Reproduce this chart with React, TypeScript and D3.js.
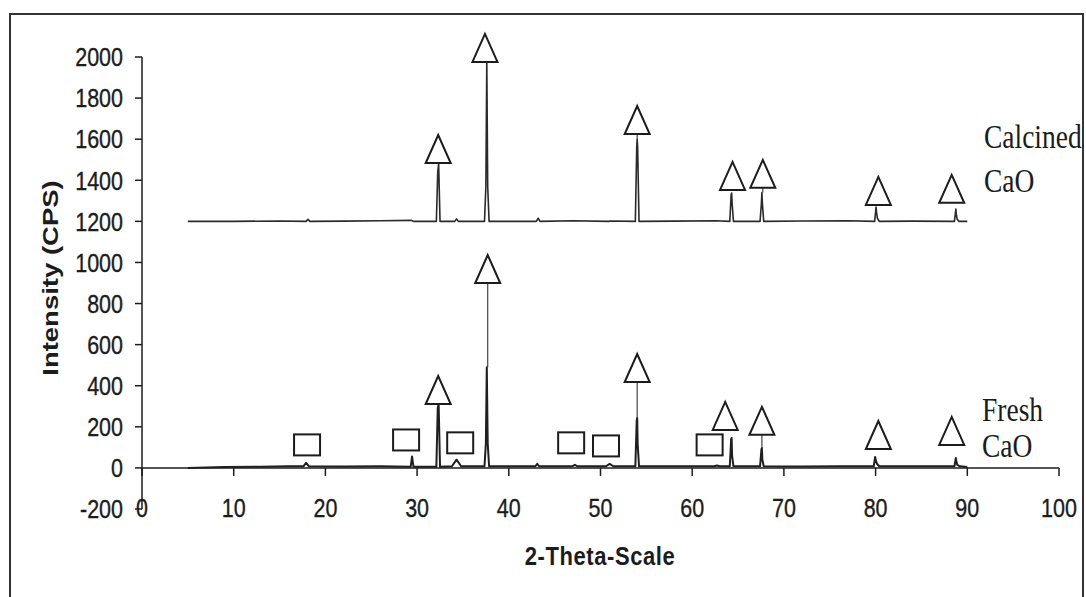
import React from "react";
import * as d3 from "d3";

// ---- Data (2-theta in degrees, intensity in CPS) ----
const calcinedTheta = [5, 10, 15, 17.9, 18.1, 18.3, 22, 26, 29.4, 29.6, 32.1, 32.25, 32.35, 32.5, 34.1, 34.3, 34.5, 37.35, 37.5, 37.6, 37.7, 37.85, 43.0, 43.2, 43.4, 47, 50.9, 51.1, 53.8, 53.95, 54.0, 54.05, 54.2, 58, 62.6, 64.1, 64.25, 64.3, 64.35, 64.5, 67.4, 67.55, 67.6, 67.65, 67.8, 72, 77, 79.9, 80.05, 80.1, 80.2, 80.4, 84, 88.6, 88.75, 88.8, 88.9, 89.1, 90];
const calcinedIntensity = [1200, 1200, 1202, 1200, 1210, 1200, 1201, 1203, 1205, 1200, 1200, 1440, 1480, 1200, 1200, 1212, 1200, 1200, 1370, 1975, 1370, 1200, 1200, 1215, 1200, 1203, 1200, 1202, 1200, 1560, 1600, 1560, 1200, 1201, 1203, 1200, 1330, 1338, 1290, 1200, 1200, 1290, 1340, 1290, 1200, 1202, 1203, 1200, 1270, 1245, 1215, 1200, 1201, 1200, 1260, 1235, 1210, 1200, 1200];

const freshTheta = [5, 9, 13, 16, 17.6, 17.9, 18.2, 22, 26, 29.3, 29.45, 29.6, 32.1, 32.25, 32.35, 32.5, 33.8, 34.3, 34.8, 37.35, 37.5, 37.6, 37.7, 37.85, 40, 42.9, 43.1, 43.3, 46.9, 47.2, 47.5, 50.6, 51.0, 51.4, 53.8, 53.95, 54.0, 54.05, 54.2, 58, 62.4, 62.7, 63, 64.1, 64.25, 64.3, 64.35, 64.5, 67.4, 67.55, 67.6, 67.65, 67.8, 72, 76, 79.8, 79.95, 80.0, 80.15, 80.4, 84, 88.6, 88.75, 88.8, 88.9, 89.2, 90];
const freshIntensity = [0, 5, 6, 8, 8, 25, 8, 7, 8, 6, 55, 6, 6, 290, 310, 6, 8, 40, 8, 8, 120, 490, 120, 8, 8, 8, 20, 8, 8, 15, 8, 8, 20, 8, 8, 230, 243, 120, 8, 8, 8, 12, 8, 8, 140, 146, 60, 8, 8, 90, 97, 40, 8, 7, 8, 8, 53, 40, 20, 8, 8, 8, 48, 35, 15, 8, 5];

// triangle markers: 2-theta, intensity of the triangle base, peak top (leader line start)
const calcinedTriTheta = [32.3, 37.4, 54.0, 64.4, 67.7, 80.3, 88.3];
const calcinedTriBase = [1484, 1976, 1625, 1353, 1363, 1280, 1290];
const calcinedTriPeak = [1480, 1975, 1600, 1338, 1340, 1270, 1290];
const freshTriTheta = [32.3, 37.7, 54.0, 63.6, 67.6, 80.3, 88.3];
const freshTriBase = [311, 900, 418, 185, 161, 92, 112];
const freshTriPeak = [310, 490, 243, 185, 97, 92, 112];

// square markers: 2-theta, intensity of square centre
const squareTheta = [18.0, 28.8, 34.7, 46.8, 50.6, 61.9];
const squareCenter = [112, 136, 122, 122, 107, 112];

const yTicks = [-200, 0, 200, 400, 600, 800, 1000, 1200, 1400, 1600, 1800, 2000];
const xTicks = [0, 10, 20, 30, 40, 50, 60, 70, 80, 90, 100];

const SANS = "'Liberation Sans', Arial, Helvetica, sans-serif";
const SERIF = "'Liberation Serif', 'Times New Roman', Times, serif";
const INK = "#1c1c1c";
const VS = 1.2; // vertical stretch of the scanned figure

export default function App() {
  const W = 1086, H = 597;
  const x = d3.scaleLinear().domain([0, 100]).range([142, 1059]);
  const y = d3.scaleLinear().domain([-200, 2000]).range([509, 57]);

  const line = d3
    .line<[number, number]>()
    .x((d) => x(d[0]))
    .y((d) => y(d[1]));

  const calcined: [number, number][] = calcinedTheta.map((t, i) => [t, calcinedIntensity[i]]);
  const fresh: [number, number][] = freshTheta.map((t, i) => [t, freshIntensity[i]]);

  const triW = 25, triH = 28;
  const tri = (cx: number, by: number) =>
    `M${cx - triW / 2},${by} L${cx + triW / 2},${by} L${cx},${by - triH} Z`;

  const triangles = [
    ...calcinedTriTheta.map((t, i) => ({ t, base: calcinedTriBase[i], peak: calcinedTriPeak[i] })),
    ...freshTriTheta.map((t, i) => ({ t, base: freshTriBase[i], peak: freshTriPeak[i] })),
  ];

  return (
    <svg
      width={W}
      height={H}
      style={{ position: "absolute", left: 0, top: 0, background: "#fff" }}
    >
      <rect x={0} y={0} width={W} height={H} fill="#fff" />
      {/* outer frame */}
      <rect x={10} y={14} width={1073} height={620} fill="none" stroke="#333" strokeWidth={2} />

      {/* y axis */}
      <line x1={x(0)} x2={x(0)} y1={y(2000)} y2={y(-200)} stroke={INK} strokeWidth={1.5} />
      {yTicks.map((v) => (
        <g key={"y" + v}>
          <line x1={x(0) - 7} x2={x(0)} y1={y(v)} y2={y(v)} stroke={INK} strokeWidth={1.5} />
          <text
            transform={`translate(123,${y(v)}) scale(1,${VS})`}
            dy="0.36em"
            textAnchor="end"
            fontFamily={SANS}
            fontSize={21.5}
            stroke={INK}
            strokeWidth={0.3}
            fill={INK}
          >
            {v}
          </text>
        </g>
      ))}

      {/* x axis at zero */}
      <line x1={x(0)} x2={x(100)} y1={y(0)} y2={y(0)} stroke={INK} strokeWidth={1.5} />
      {xTicks.map((v) => (
        <g key={"x" + v}>
          <line x1={x(v)} x2={x(v)} y1={y(0)} y2={y(0) + 8} stroke={INK} strokeWidth={1.5} />
          <text
            transform={`translate(${x(v)},517) scale(1,${VS})`}
            textAnchor="middle"
            fontFamily={SANS}
            fontSize={21.5}
            stroke={INK}
            strokeWidth={0.3}
            fill={INK}
          >
            {v}
          </text>
        </g>
      ))}

      {/* axis titles */}
      <text
        transform={`translate(58,278) rotate(-90) scale(1.25,1)`}
        textAnchor="middle"
        fontFamily={SANS}
        fontWeight="bold"
        fontSize={22}
        fill={INK}
      >
        Intensity (CPS)
      </text>
      <text
        transform={`translate(600,565) scale(1,${VS})`}
        textAnchor="middle"
        fontFamily={SANS}
        fontWeight="bold"
        fontSize={22}
        letterSpacing={0.6}
        fill={INK}
      >
        2-Theta-Scale
      </text>

      {/* spectra */}
      <path d={line(calcined) || ""} fill="none" stroke="#2a2a2a" strokeWidth={1.6} strokeLinejoin="round" />
      <path d={line(fresh) || ""} fill="none" stroke="#1f1f1f" strokeWidth={2} strokeLinejoin="round" />

      {/* leader lines + triangles */}
      {triangles.map((d, i) => (
        <g key={"t" + i}>
          {d.base - d.peak > 20 && (
            <line x1={x(d.t)} x2={x(d.t)} y1={y(d.peak)} y2={y(d.base)} stroke="#444" strokeWidth={1.2} />
          )}
          <path d={tri(x(d.t), y(d.base))} fill="#fff" stroke={INK} strokeWidth={2} strokeLinejoin="miter" />
        </g>
      ))}

      {/* squares */}
      {squareTheta.map((t, i) => (
        <rect
          key={"s" + i}
          x={x(t) - 13}
          y={y(squareCenter[i]) - 10.5}
          width={26}
          height={21}
          fill="#fff"
          stroke={INK}
          strokeWidth={2}
        />
      ))}

      {/* series labels */}
      <g fontFamily={SERIF} fontSize={27.5} fill={INK}>
        <text transform={`translate(984,148) scale(1,${VS})`}>Calcined</text>
        <text transform={`translate(984,192) scale(1,${VS})`}>CaO</text>
        <text transform={`translate(982,421) scale(1,${VS})`}>Fresh</text>
        <text transform={`translate(982,457) scale(1,${VS})`}>CaO</text>
      </g>
    </svg>
  );
}
